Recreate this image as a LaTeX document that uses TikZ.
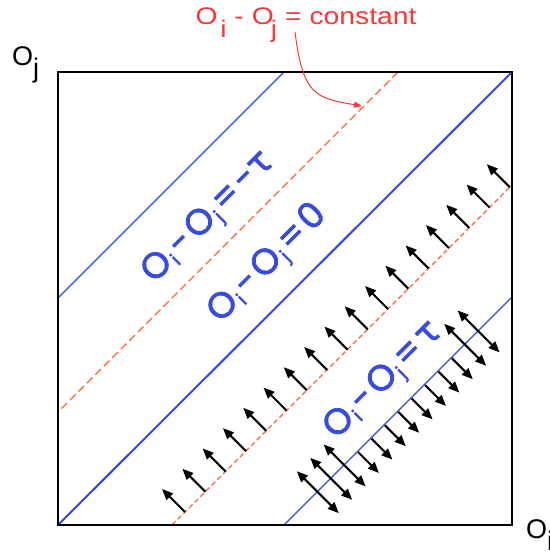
\documentclass[tikz,border=0pt]{standalone}
\usepackage{fontspec}
\setmainfont{Liberation Sans}
\newfontfamily\lblfont{Poppins}[FakeBold=2]
\newfontfamily\grkfont{DejaVu Sans}[FakeBold=1.5]
\usetikzlibrary{arrows.meta}
\definecolor{lineblue}{RGB}{50,70,240}
\definecolor{textblue}{RGB}{55,75,225}
\definecolor{dashred}{RGB}{255,100,50}
\definecolor{labelred}{RGB}{250,55,55}
\newcommand{\lowsub}[1]{\raisebox{-0.55em}{#1}}
\newcommand{\bsub}[1]{\kern0.04em\raisebox{-0.12em}{\fontsize{19}{19}\selectfont #1}}
\newcommand{\gap}{\kern0.1em}
\begin{document}
\begin{tikzpicture}[x=1pt,y=-1pt,
  frame/.style={line width=2pt, draw=black},
  bluethin/.style={draw=lineblue, line width=1.1pt},
  bluethick/.style={draw=lineblue, line width=2pt},
  reddashlong/.style={draw=dashred, line width=1.1pt, dash pattern=on 8pt off 4pt},
  reddashshort/.style={draw=dashred, line width=1.1pt, dash pattern=on 5pt off 3pt},
  upar/.style={line width=2.1pt, -{Triangle[length=11pt,width=9pt]}},
  dblar/.style={line width=2.1pt, {Triangle[length=11pt,width=9pt]}-{Triangle[length=11pt,width=9pt]}},
  bluelbl/.style={text=textblue, font=\lblfont\fontsize{36}{36}\selectfont, inner sep=0pt, rotate=45},
  axislbl/.style={anchor=base west, font=\fontsize{27}{27}\selectfont, inner sep=0pt},
  redlbl/.style={text=labelred, anchor=base west, font=\fontsize{24}{24}\selectfont, inner sep=0pt, xscale=1.18}
]
\useasboundingbox (0,0) rectangle (549,554);
% corners of the square
\coordinate (tl) at (58,72);
\coordinate (tr) at (512,72);
\coordinate (bl) at (58,525);
\coordinate (br) at (512,525);
% line end points
\coordinate (ubA) at (284,72);  \coordinate (ubB) at (58,298);
\coordinate (urA) at (398,72);  \coordinate (urB) at (58,412);
\coordinate (lrA) at (172,525); \coordinate (lrB) at (512,185);
\coordinate (lbA) at (284,525); \coordinate (lbB) at (512,297);

\draw[bluethin] (ubA) -- (ubB);
\draw[reddashlong] (urA) -- (urB);
\draw[bluethick] (bl) -- (tr);
\draw[reddashshort] (lrA) -- (lrB);
\draw[bluethin] (lbA) -- (lbB);

% single arrows from the lower dashed line
\foreach \k in {0,...,16} {
  \pgfmathsetmacro\xt{185+20.3*\k}
  \draw[upar] (\xt,697-\xt) -- ++(-23,-23);
}
% arrows around the lower blue line
\foreach \k in {0,1,2,11,12} {
  \pgfmathsetmacro\xc{317.8+13.4*\k}
  \draw[dblar] (\xc-21,810-\xc-21) -- (\xc+21,810-\xc+21);
}
\foreach \k in {3,...,10} {
  \pgfmathsetmacro\xc{317.8+13.4*\k}
  \draw[upar] (\xc,810-\xc) -- ++(21,21);
}

\draw[frame] (tl) rectangle (br);

% labels
\node[bluelbl] (labA) at (209,218) {O\bsub{i}\gap-\gap O\bsub{j}\gap=\gap-{\grkfont τ}};
\node[bluelbl] (labB) at (268,264) {O\bsub{i}\gap-\gap O\bsub{j}\gap=\gap 0};
\node[bluelbl] (labC) at (384,381) {O\bsub{i}\gap-\gap O\bsub{j}\gap=\gap{\grkfont τ}};

\node[axislbl] (oj) at (12,65) {O\raisebox{-12.5pt}{j}};
\node[axislbl] (oi) at (526,538) {O\raisebox{-12pt}{i}};

\node[redlbl] (const) at (195.5,24) {O\kern0.09em\lowsub{i} - O\kern-0.1em\lowsub{j} = constant};
\coordinate (cstart) at (295,32);
\coordinate (ctip) at (362,106);
\draw[labelred, line width=1pt, -{Triangle[length=8pt,width=6pt]}] (cstart) .. controls (303,95) and (315,98) .. (ctip);
\end{tikzpicture}
\end{document}
